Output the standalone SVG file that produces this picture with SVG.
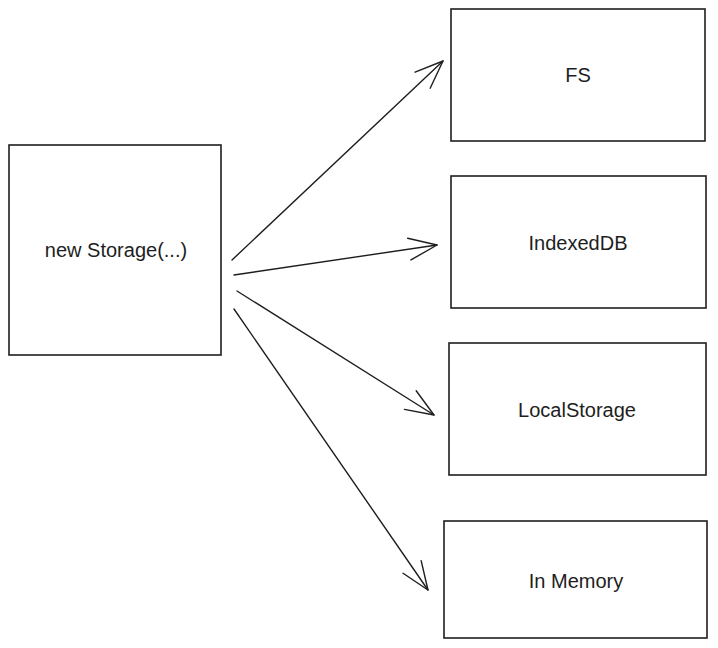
<svg xmlns="http://www.w3.org/2000/svg" width="718" height="648" viewBox="0 0 718 648">
<style>
.box{fill:#ffffff;stroke:#1e1e1e;stroke-width:1.6}
.lbl{font-family:"Liberation Sans",Arial,sans-serif;font-size:20px;fill:#1e1e1e;text-anchor:middle}
.conn{fill:none;stroke:#1e1e1e;stroke-width:1.4;stroke-linecap:round}
</style>
<defs>
<marker id="arr" viewBox="-32 -16 34 32" refX="0" refY="0" markerWidth="34" markerHeight="32" markerUnits="userSpaceOnUse" orient="auto" overflow="visible">
<path d="M-28,-11 L0,0 L-28,11" fill="none" stroke="#1e1e1e" stroke-width="1.4" stroke-linecap="round" stroke-linejoin="round"/>
</marker>
</defs>
<rect width="718" height="648" fill="#ffffff"/>
<g id="connectors">
<path class="conn" d="M232,260 L443,61" marker-end="url(#arr)"/>
<path class="conn" d="M234,275 L437,245" marker-end="url(#arr)"/>
<path class="conn" d="M237,291 L434,415" marker-end="url(#arr)"/>
<path class="conn" d="M234,309 L428,590" marker-end="url(#arr)"/>
</g>
<g id="storage">
<rect class="box" x="9" y="145" width="212" height="210"/>
<text class="lbl" x="116" y="257">new Storage(...)</text>
</g>
<g id="fs">
<rect class="box" x="451" y="9" width="254" height="132"/>
<text class="lbl" x="578" y="82">FS</text>
</g>
<g id="indexeddb">
<rect class="box" x="451" y="176" width="255" height="132"/>
<text class="lbl" x="578" y="250">IndexedDB</text>
</g>
<g id="localstorage">
<rect class="box" x="449" y="343" width="257" height="132"/>
<text class="lbl" x="577" y="417">LocalStorage</text>
</g>
<g id="inmemory">
<rect class="box" x="444" y="521" width="263" height="117"/>
<text class="lbl" x="576" y="588">In Memory</text>
</g>
</svg>
